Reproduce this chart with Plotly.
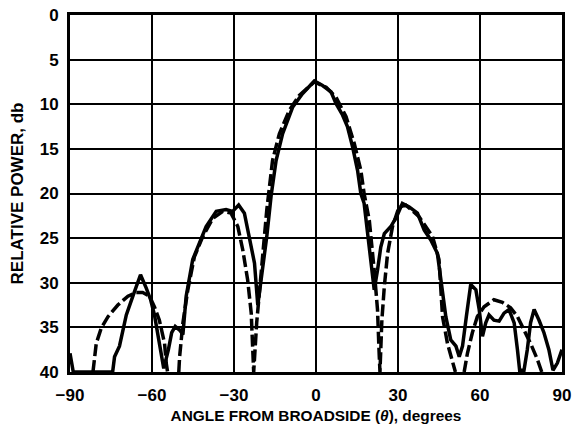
import plotly.graph_objects as go

# Measured pattern (solid)
meas_x = [-90, -88.8, -74.4, -73.7, -71.9, -70.7, -69.4, -67.0, -64.2, -62.1, -60.5, -59.1, -57.9,
          -56.6, -55.7, -54.0, -52.8, -51.5, -49.9, -48.7, -47.5, -45.1, -42.6, -40.2, -36.5,
          -32.9, -30.5, -28.3, -26.2, -24.4, -22.5, -21.3, -19.5, -18.0, -16.4, -14.6, -12.2,
          -8.5, -4.9, -0.6, 2.4, 5.5, 7.3, 9.7, 11.5, 13.4, 15.2, 16.4, 17.6, 18.9, 20.1, 21.3,
          22.5, 23.7, 25.0, 27.4, 29.5, 31.6, 34.1, 37.1, 39.6, 42.0, 44.4, 45.7, 47.5, 49.3,
          51.2, 52.4, 53.6, 55.0, 56.6, 58.5, 59.7, 60.9, 62.1, 63.3, 65.1, 67.0, 68.8, 70.6,
          72.5, 73.7, 74.5, 76.1, 77.3, 78.5, 79.8, 81.6, 83.4, 85.2, 86.7, 88.3, 89.5, 90]
meas_db = [37.9, 40, 40, 38.3, 37.1, 35.3, 33.6, 31.5, 29.1, 30.6, 31.9, 33.6, 35.6,
           37.9, 39.6, 37.5, 35.6, 34.9, 35.3, 35.8, 31.5, 27.4, 25.6, 23.7, 22.0,
           21.8, 22.0, 21.3, 22.2, 24.8, 27.8, 32.5, 28.6, 24.8, 20.2, 16.3, 13.3,
           10.3, 8.8, 7.4, 7.9, 8.6, 9.9, 11.2, 12.5, 14.8, 17.4, 20.0, 21.1, 24.8, 28.2, 30.8,
           28.6, 26.0, 24.5, 23.7, 22.6, 21.1, 21.5, 22.2, 24.1, 25.2, 26.7, 30.0, 33.8, 36.4,
           37.1, 38.3, 37.1, 33.8, 30.2, 30.8, 33.0, 36.0, 34.5, 33.6, 34.2, 34.3, 33.4, 33.0,
           34.5, 37.5, 39.8, 39.8, 37.5, 34.5, 33.0, 34.2, 35.6, 37.5, 39.8, 39.0, 37.9, 37.5]

# Theoretical pattern (dashed)
theo_x = [-81.6, -80.4, -78.6, -76.1, -72.5, -68.8, -65.8, -63.4, -60.9, -59.1, -57.3, -55.4,
          -54.8, -54.3, None, -50.2, -49.9, -48.7, -46.9, -44.5, -41.4, -37.8, -34.1, -31.1,
          -28.6, -26.8, -25.0, -23.7, -23.2, -22.8, -21.7, -20.7, -19.5, -18.0, -15.9, -13.4,
          -9.8, -6.1, -0.6, 3.7, 7.3, 11.0, 14.0, 16.4, 17.6, 19.5, 21.3, 22.5, 23.1, 23.4,
          24.1, 25.0, 26.2, 28.0, 30.4, 32.9, 37.7, 42.6, 45.0, 46.3, 48.1, 50.5, 51.0, None,
          54.0, 54.2, 55.4, 57.2, 59.0, 61.5, 65.1, 68.2, 71.2, 73.7, 76.1, 78.5, 81.0, 82.2, 82.6]
theo_db = [40, 36.8, 35.1, 33.8, 32.5, 31.5, 31.1, 31.1, 31.5, 32.7, 34.2, 36.8,
           39.0, 40, None, 40, 38.3, 34.5, 30.8, 27.1, 24.8, 22.8, 22.0, 22.2,
           23.7, 26.3, 29.7, 33.4, 36.8, 40, 34.5, 31.2, 26.7, 21.8, 16.3, 13.3,
           10.7, 9.0, 7.5, 8.1, 9.2, 11.4, 14.4, 17.4, 20.0, 23.0, 28.6, 33.0, 37.9, 40,
           34.2, 30.4, 26.7, 23.7, 21.5, 21.3, 22.6, 24.8, 27.4, 33.8, 36.8, 39.6, 40, None,
           40, 40, 37.9, 35.6, 33.8, 32.7, 31.9, 32.2, 32.8, 33.8, 35.3, 36.8, 38.6, 39.7, 40]

x_ticks = [-90, -60, -30, 0, 30, 60, 90]
y_ticks = [0, 5, 10, 15, 20, 25, 30, 35, 40]

fig = go.Figure()
fig.add_trace(go.Scatter(x=theo_x, y=theo_db, mode="lines", connectgaps=False,
                         line=dict(color="black", width=3.5, dash="12px,4px"),
                         showlegend=False, hoverinfo="skip"))
fig.add_trace(go.Scatter(x=meas_x, y=meas_db, mode="lines",
                         line=dict(color="black", width=3.5),
                         showlegend=False, hoverinfo="skip"))

font = "Liberation Sans, Arial, sans-serif"
fig.update_layout(
    width=577, height=431,
    margin=dict(l=70, r=15, t=15, b=59, autoexpand=False),
    paper_bgcolor="white", plot_bgcolor="white",
    font=dict(family=font, color="black", size=14),
    xaxis=dict(range=[-90, 90], tickvals=x_ticks, ticks="", showgrid=True,
               gridcolor="black", gridwidth=2, zeroline=False,
               showline=True, linecolor="black", linewidth=3, mirror=True,
               ticklabelstandoff=6, automargin=False,
               tickfont=dict(size=17, family=font, weight="bold"),
               title=dict(text="<b>ANGLE FROM BROADSIDE (<i>θ</i>), degrees</b>",
                          font=dict(size=15.4, family=font), standoff=6)),
    yaxis=dict(range=[40, 0], tickvals=y_ticks, ticks="", showgrid=True,
               gridcolor="black", gridwidth=2, zeroline=False,
               showline=True, linecolor="black", linewidth=3, mirror=True,
               ticklabelstandoff=5, automargin=False,
               tickfont=dict(size=17, family=font, weight="bold"),
               title=dict(text="<b>RELATIVE POWER, db</b>",
                          font=dict(size=17, family=font), standoff=12)),
)

fig.write_html("out.html")
